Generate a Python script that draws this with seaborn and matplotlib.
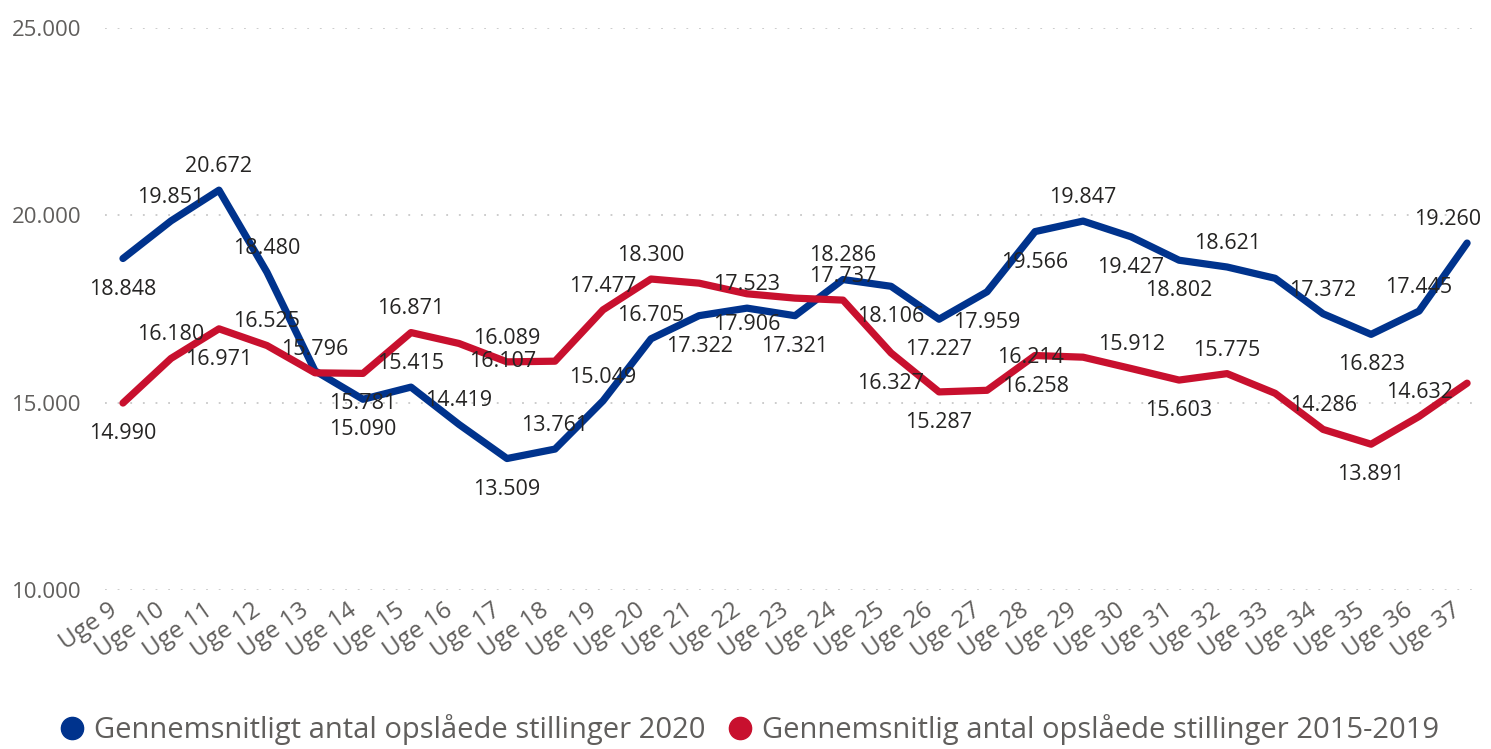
import pandas as pd
import matplotlib.pyplot as plt
import seaborn as sns
from matplotlib.lines import Line2D
from matplotlib.ticker import FuncFormatter
from matplotlib.transforms import ScaledTranslation

weeks = list(range(9, 38))
week_labels = [f"Uge {w}" for w in weeks]

stillinger_2020 = [18848, 19851, 20672, 18480, 15850, 15090, 15415, 14419, 13509, 13761,
                   15049, 16705, 17322, 17523, 17321, 18286, 18106, 17227, 17959, 19566,
                   19847, 19427, 18802, 18621, 18320, 17372, 16823, 17445, 19260]
stillinger_2015_2019 = [14990, 16180, 16971, 16525, 15796, 15781, 16871, 16580, 16089, 16107,
                        17477, 18300, 18190, 17906, 17790, 17737, 16327, 15287, 15330, 16258,
                        16214, 15912, 15603, 15775, 15250, 14286, 13891, 14632, 15520]

navn_2020 = "Gennemsnitligt antal opslåede stillinger 2020"
navn_hist = "Gennemsnitlig antal opslåede stillinger 2015-2019"

# where each data label sits: a = above, b = below, s = pushed left onto the line,
# e = above but pulled in from the right edge, - = hidden
pos_2020 = "baaa-baabaaabababbbbabba-abae"
pos_hist = "babaaba-asaa-b-abb-bsaba-aba-"

blue = "#00338D"
red = "#C8102E"
grey = "#605E5C"

df = pd.DataFrame({
    "uge": weeks * 2,
    "antal": stillinger_2020 + stillinger_2015_2019,
    "serie": [navn_2020] * len(weeks) + [navn_hist] * len(weeks),
})

sns.set_style("white")
plt.rcParams["font.family"] = ["Open Sans", "DejaVu Sans"]

fig = plt.figure(figsize=(14.91, 7.49), dpi=100)
ax = fig.add_axes([0.0704, 0.2123, 0.9229, 0.7503])

sns.lineplot(data=df, x="uge", y="antal", hue="serie", palette=[blue, red],
             linewidth=5.2, ax=ax, legend=False, sort=False)
for line in ax.lines:
    line.set_solid_joinstyle("round")
    line.set_solid_capstyle("round")

offsets = {"a": (0, 17), "b": (0, -22), "s": (-38, 0), "e": (-14, 17)}
for values, pos in [(stillinger_2020, pos_2020), (stillinger_2015_2019, pos_hist)]:
    for w, v, p in zip(weeks, values, pos):
        if p == "-":
            continue
        ax.annotate(f"{v:,}".replace(",", "."), (w, v), xytext=offsets[p],
                    textcoords="offset points", ha="center", va="center",
                    fontsize=15.5, color="#252423")

ax.set_ylim(10000, 25000)
ax.set_xlim(9 - 0.375, 37 + 0.29)
ax.set_yticks([10000, 15000, 20000, 25000])
ax.yaxis.set_major_formatter(FuncFormatter(lambda v, _: f"{int(v):,}".replace(",", ".")))
ax.set_xticks(weeks)
ax.set_xticklabels(week_labels, rotation=35, ha="right", va="top", rotation_mode="anchor")
ax.tick_params(axis="both", length=0, colors=grey)
ax.tick_params(axis="y", pad=17, labelsize=16)
ax.tick_params(axis="x", pad=6, labelsize=17.5)
# nudge the week labels left so their ends sit just before the point
shift = ScaledTranslation(-11 / 72, 0, fig.dpi_scale_trans)
for lbl in ax.get_xticklabels():
    lbl.set_transform(lbl.get_transform() + shift)
ax.yaxis.grid(True, linestyle=(0, (1, 6)), color="#c8c8c8", linewidth=1.3)
ax.xaxis.grid(False)
ax.set_xlabel("")
ax.set_ylabel("")
sns.despine(ax=ax, left=True, bottom=True)

handles = [Line2D([], [], marker="o", linestyle="none", markersize=16, color=c)
           for c in (blue, red)]
fig.legend(handles, [navn_2020, navn_hist], loc="lower center", bbox_to_anchor=(0.497, -0.03),
           ncol=2, frameon=False, fontsize=21, labelcolor=grey,
           handletextpad=-0.25, columnspacing=0.2)

fig.savefig("out.png", dpi=100)
